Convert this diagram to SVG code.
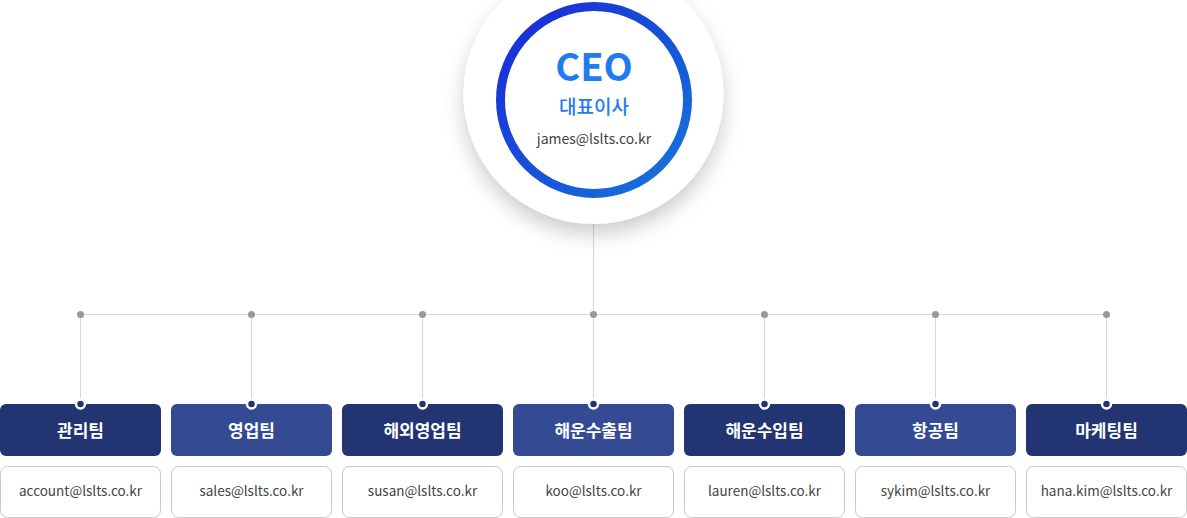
<svg xmlns="http://www.w3.org/2000/svg" width="1187" height="518" viewBox="0 0 1187 518">
<defs>
<linearGradient id="ring" x1="0" y1="0" x2="1" y2="1">
<stop offset="0" stop-color="#1a28d8"/>
<stop offset="1" stop-color="#1577d9"/>
</linearGradient>
<filter id="sh" x="-30%" y="-30%" width="160%" height="170%">
<feDropShadow dx="0" dy="10" stdDeviation="10" flood-color="#000" flood-opacity="0.2"/>
</filter>
</defs>
<style>
text{font-family:"Noto Sans CJK KR","Noto Sans",sans-serif;text-anchor:middle}
.team{font-size:17px;font-weight:700;fill:#fff}
.mail{font-size:13.5px;fill:#444}
.dk{fill:#233472}
.lt{fill:#344b94}
.mb{fill:#fff;stroke:#c8c8c8;stroke-width:1}
.ln{stroke:#d6d6d6;stroke-width:1;fill:none}
.gd{fill:#999}
.nd{fill:#233472;stroke:#fff;stroke-width:2.5}
</style>
<rect width="1187" height="518" fill="#fff"/>
<g id="connectors">
<line class="ln" x1="593.5" y1="220" x2="593.5" y2="404"/>
<line class="ln" x1="80.5" y1="314.5" x2="1106.5" y2="314.5"/>
<line class="ln" x1="80.5" y1="314" x2="80.5" y2="404"/>
<line class="ln" x1="251.5" y1="314" x2="251.5" y2="404"/>
<line class="ln" x1="422.5" y1="314" x2="422.5" y2="404"/>
<line class="ln" x1="764.5" y1="314" x2="764.5" y2="404"/>
<line class="ln" x1="935.5" y1="314" x2="935.5" y2="404"/>
<line class="ln" x1="1106.5" y1="314" x2="1106.5" y2="404"/>
<circle class="gd" cx="80.5" cy="314.5" r="3.5"/>
<circle class="gd" cx="251.5" cy="314.5" r="3.5"/>
<circle class="gd" cx="422.5" cy="314.5" r="3.5"/>
<circle class="gd" cx="593.5" cy="314.5" r="3.5"/>
<circle class="gd" cx="764.5" cy="314.5" r="3.5"/>
<circle class="gd" cx="935.5" cy="314.5" r="3.5"/>
<circle class="gd" cx="1106.5" cy="314.5" r="3.5"/>
</g>
<g id="ceo">
<circle cx="593.5" cy="94" r="130" fill="#fff" filter="url(#sh)"/>
<circle cx="594" cy="100" r="93.5" fill="#fff" stroke="url(#ring)" stroke-width="9"/>
<text x="594" y="81" font-size="38" font-weight="700" fill="#1e7bf0">CEO</text>
<text x="594" y="114" font-size="19" font-weight="500" fill="#1e7bf0">대표이사</text>
<text x="594" y="144" font-size="14" fill="#444">james@lslts.co.kr</text>
</g>
<g id="team1">
<rect class="dk" x="0" y="404" width="161" height="52" rx="6"/>
<circle class="nd" cx="80.5" cy="404" r="4.5"/>
<text class="team" x="80.5" y="437">관리팀</text>
<rect class="mb" x="0.5" y="466.5" width="160" height="51" rx="7"/>
<text class="mail" x="80.5" y="496">account@lslts.co.kr</text>
</g>
<g id="team2">
<rect class="lt" x="171" y="404" width="161" height="52" rx="6"/>
<circle class="nd" cx="251.5" cy="404" r="4.5"/>
<text class="team" x="251.5" y="437">영업팀</text>
<rect class="mb" x="171.5" y="466.5" width="160" height="51" rx="7"/>
<text class="mail" x="251.5" y="496">sales@lslts.co.kr</text>
</g>
<g id="team3">
<rect class="dk" x="342" y="404" width="161" height="52" rx="6"/>
<circle class="nd" cx="422.5" cy="404" r="4.5"/>
<text class="team" x="422.5" y="437">해외영업팀</text>
<rect class="mb" x="342.5" y="466.5" width="160" height="51" rx="7"/>
<text class="mail" x="422.5" y="496">susan@lslts.co.kr</text>
</g>
<g id="team4">
<rect class="lt" x="513" y="404" width="161" height="52" rx="6"/>
<circle class="nd" cx="593.5" cy="404" r="4.5"/>
<text class="team" x="593.5" y="437">해운수출팀</text>
<rect class="mb" x="513.5" y="466.5" width="160" height="51" rx="7"/>
<text class="mail" x="593.5" y="496">koo@lslts.co.kr</text>
</g>
<g id="team5">
<rect class="dk" x="684" y="404" width="161" height="52" rx="6"/>
<circle class="nd" cx="764.5" cy="404" r="4.5"/>
<text class="team" x="764.5" y="437">해운수입팀</text>
<rect class="mb" x="684.5" y="466.5" width="160" height="51" rx="7"/>
<text class="mail" x="764.5" y="496">lauren@lslts.co.kr</text>
</g>
<g id="team6">
<rect class="lt" x="855" y="404" width="161" height="52" rx="6"/>
<circle class="nd" cx="935.5" cy="404" r="4.5"/>
<text class="team" x="935.5" y="437">항공팀</text>
<rect class="mb" x="855.5" y="466.5" width="160" height="51" rx="7"/>
<text class="mail" x="935.5" y="496">sykim@lslts.co.kr</text>
</g>
<g id="team7">
<rect class="dk" x="1026" y="404" width="161" height="52" rx="6"/>
<circle class="nd" cx="1106.5" cy="404" r="4.5"/>
<text class="team" x="1106.5" y="437">마케팅팀</text>
<rect class="mb" x="1026.5" y="466.5" width="160" height="51" rx="7"/>
<text class="mail" x="1106.5" y="496">hana.kim@lslts.co.kr</text>
</g>
</svg>
